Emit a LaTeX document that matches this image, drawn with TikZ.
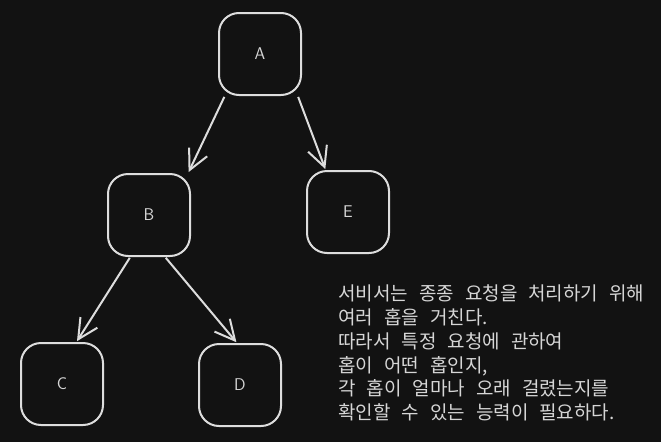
\documentclass[tikz,border=0pt]{standalone}
\usepackage{fontspec}
\setmainfont{Noto Sans CJK KR}
\newfontfamily\korfont{Noto Sans CJK KR}
\usepackage{xcolor}
\usepackage{tikz}
\usetikzlibrary{positioning,arrows.meta}
\definecolor{palBg}{HTML}{121212}
\definecolor{palLine}{HTML}{DDDDDD}
\definecolor{palText}{HTML}{D6D6D6}
\newskip\notespace
\notespace=11pt plus 1pt
\newcommand{\notefont}{\korfont\fontsize{19}{23.7}\selectfont\spaceskip=\notespace}
\tikzset{
  hopnode/.style={draw=palLine, line width=2pt, rounded corners=20pt,
                  minimum size=82pt, inner sep=0pt, text=palText,
                  font=\sffamily\fontsize{17}{17}\selectfont},
  hoparrow/.style={-{Straight Barb[length=20pt, width=20pt, line width=2pt]},
                   draw=palLine, line width=2pt, shorten <=1pt, shorten >=1pt},
  notetext/.style={text=palText, align=left, inner sep=0pt, anchor=north west,
                   font=\notefont},
}
\begin{document}
\begin{tikzpicture}[x=1pt, y=-1pt]
%% Background
\fill[palBg] (0,0) rectangle (661,442);
\useasboundingbox (0,0) rectangle (661,442);
%% Hop Nodes
\node[hopnode] (hopA) at (260,54) {A};
\node[hopnode] (hopB) at (149,215) {B};
\node[hopnode] (hopE) at (348,212) {E};
\node[hopnode] (hopC) at (62,384) {C};
\node[hopnode] (hopD) at (240,385) {D};
%% Calls
\draw[hoparrow] (hopA.230) -- (hopB.47);
\draw[hoparrow] (hopA.312) -- (hopE.118);
\draw[hoparrow] (hopB.246) -- (hopC.71);
\draw[hoparrow] (hopB.291) -- (hopD.94);
%% Note
\node[notetext] (note) at (338,285) {서비서는 종종 요청을 처리하기 위해\\
  여러 홉을 거친다.\\
  따라서 특정 요청에 관하여\\
  홉이 어떤 홉인지,\\
  각 홉이 얼마나 오래 걸렸는지를\\
  확인할 수 있는 능력이 필요하다.};
\end{tikzpicture}
\end{document}
